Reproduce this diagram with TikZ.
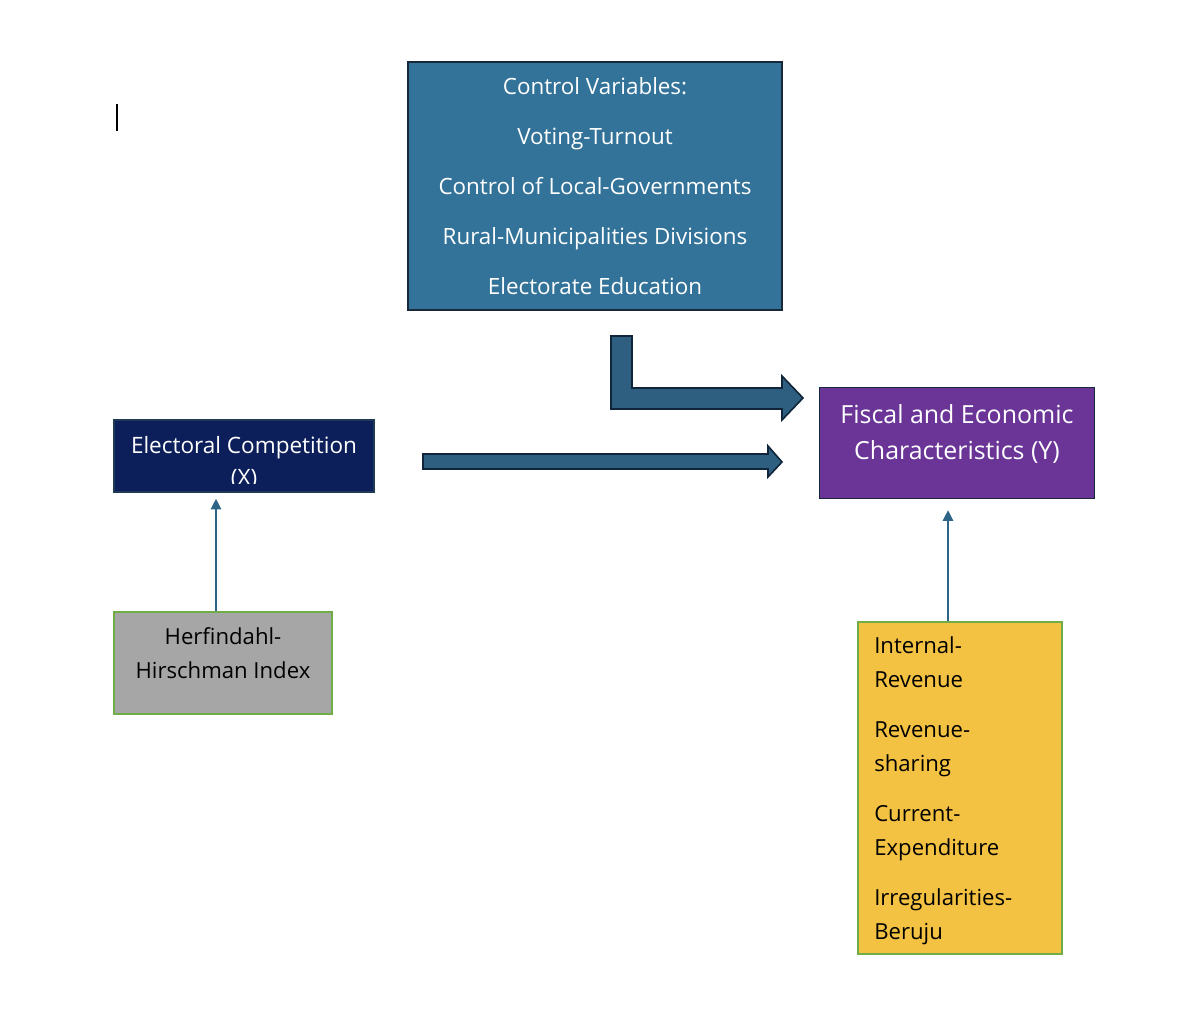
\documentclass[tikz,border=0pt]{standalone}
\usepackage{fontspec}
\setmainfont{Open Sans}[Ligatures=NoCommon]
\usetikzlibrary{arrows.meta,calc}
\definecolor{ctrlfill}{HTML}{337399}
\definecolor{darkedge}{HTML}{16283A}
\definecolor{navyfill}{HTML}{0C1F5B}
\definecolor{navyedge}{HTML}{1F3A52}
\definecolor{purpfill}{HTML}{6A3597}
\definecolor{grayfill}{HTML}{A6A6A6}
\definecolor{greenedge}{HTML}{70AD47}
\definecolor{yellfill}{HTML}{F4C242}
\definecolor{blockfill}{HTML}{2E5F80}
\definecolor{blockedge}{HTML}{10253A}
\definecolor{thinarrow}{HTML}{2E6586}
\tikzset{
  box/.style={draw, rectangle, line width=1.2pt, inner sep=0pt},
  txt/.style={inner sep=0pt, font=\fontsize{16.7}{24}\selectfont},
  block/.style={fill=blockfill, draw=blockedge, line width=1.2pt, line join=miter},
  thin arrow/.style={draw=thinarrow, line width=0.8pt, -{Triangle[width=8pt,length=8pt]}},
}
\begin{document}
\begin{tikzpicture}[x=0.75pt,y=-0.75pt]
\useasboundingbox (0,0) rectangle (1184,1012);
% cursor
\draw[line width=1.2pt] (117,104) -- (117,131);
% control box
\node[box, fill=ctrlfill, draw=darkedge, minimum width=280.5pt, minimum height=186pt] (ctrl) at (595,186) {};
\node[txt, text=white, align=center, font=\fontsize{16.8}{37.5}\selectfont] (ctrlT) at (595,186)
  {Control Variables:\\Voting-Turnout\\Control of Local-Governments\\Rural-Municipalities Divisions\\Electorate Education};
% electoral box
\node[box, fill=navyfill, draw=navyedge, minimum width=195pt, minimum height=54pt] (elec) at (244,456) {};
\begin{scope}
\clip (114,420) rectangle (374,483);
\node[txt, text=white, align=center, font=\fontsize{16.9}{24}\selectfont] (elecT) at (244,463) {Electoral Competition\\(X)};
\end{scope}
% fiscal box
\node[box, fill=purpfill, draw=darkedge, minimum width=206.25pt, minimum height=83.25pt] (fisc) at (957,443) {};
\node[txt, text=white, align=center, font=\fontsize{18.7}{27}\selectfont] (fiscT) at (957,434) {Fiscal and Economic\\Characteristics (Y)};
% HHI box
\node[box, fill=grayfill, draw=greenedge, minimum width=163.5pt, minimum height=76.5pt] (hhi) at (223,663) {};
\node[txt, align=center, font=\fontsize{16.6}{25.5}\selectfont] (hhiT) at (223,653) {Herfindahl-\\Hirschman Index};
% yellow box
\node[box, fill=yellfill, draw=greenedge, minimum width=153pt, minimum height=249pt] (yell) at (960,788) {};
\node[txt, anchor=west, align=left, font=\fontsize{16.6}{25.5}\selectfont] (yellT) at (874,791)
  {Internal-\\Revenue\\[12pt]Revenue-\\sharing\\[12pt]Current-\\Expenditure\\[12pt]Irregularities-\\Beruju};
% block arrows
\draw[block] (611,336) -- (632,336) -- (632,388) -- (782,388) -- (782,376) -- (803,398) -- (782,420) -- (782,409) -- (611,409) -- cycle;
\draw[block] (423,454) -- (768,454) -- (768,446) -- (782,462) -- (768,477) -- (768,469) -- (423,469) -- cycle;
% thin arrows
\coordinate (cA) at (216,0);
\coordinate (cB) at (948,0);
\draw[thin arrow, shorten >=4.5pt] (hhi.north -| cA) -- (elec.south -| cA);
\draw[thin arrow, shorten >=8.25pt] (yell.north -| cB) -- (fisc.south -| cB);
\end{tikzpicture}
\end{document}
